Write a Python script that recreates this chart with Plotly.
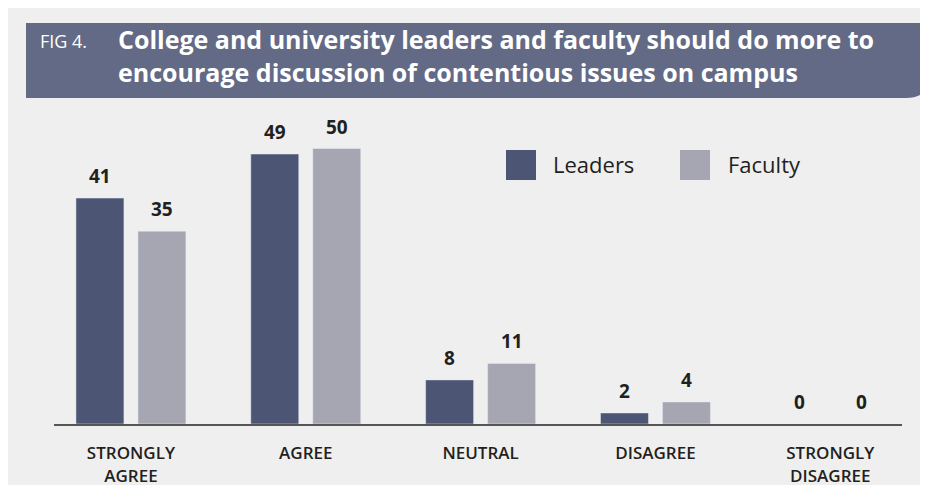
import plotly.graph_objects as go

categories = ["STRONGLY<br>AGREE", "AGREE", "NEUTRAL", "DISAGREE", "STRONGLY<br>DISAGREE"]
leaders = [41, 49, 8, 2, 0]
faculty = [35, 50, 11, 4, 0]

LEADERS_COLOR = "#4c5573"
FACULTY_COLOR = "#a6a6b2"
HEADER_COLOR = "#636a86"
PANEL = "#efefef"
TEXT = "#231f20"

# the page puts the figure 8px in from the top-left corner
W, H = 920, 477
L, R, T, B = 46, 26, 122, 61
PW, PH = W - L - R, H - T - B
OFF = 8


def fx(px):
    # page x -> paper
    return (px - OFF - L) / PW


def fy(py):
    # page y -> paper
    return (H - B - (py - OFF)) / PH


fig = go.Figure()
fig.add_trace(go.Bar(x=categories, y=leaders, name="Leaders", marker_color=LEADERS_COLOR, hoverinfo="x+y"))
fig.add_trace(go.Bar(x=categories, y=faculty, name="Faculty", marker_color=FACULTY_COLOR, hoverinfo="x+y"))

annotations = []
for i, cat in enumerate(categories):
    for vals, shift in ((leaders, -31), (faculty, 31)):
        annotations.append(dict(
            x=cat, y=vals[i], xref="x", yref="y", text=str(vals[i]),
            showarrow=False, xshift=shift, yshift=22, yanchor="middle",
            font=dict(family="Open Sans", size=19, color=TEXT, weight="bold"),
        ))

# header texts
annotations += [
    dict(x=fx(38), y=fy(41), xref="paper", yref="paper", text="FIG 4.", showarrow=False,
         xanchor="left", yanchor="middle", font=dict(family="Open Sans", size=18, color="white")),
    dict(x=fx(116), y=fy(56), xref="paper", yref="paper",
         text="College and university leaders and faculty should do more to<br>"
              "encourage discussion of contentious issues on campus",
         showarrow=False, align="left", xanchor="left", yanchor="middle",
         font=dict(family="Open Sans", size=25, color="white", weight="bold")),
]

# legend drawn by hand so the swatches can be large squares
for name, tx in (("Leaders", 551), ("Faculty", 726)):
    annotations.append(dict(x=fx(tx), y=fy(164), xref="paper", yref="paper", text=name, showarrow=False,
                            xanchor="left", yanchor="middle",
                            font=dict(family="Open Sans", size=22, color=TEXT)))

shapes = []
# header bar with rounded bottom-right corner
x0, x1, y0, y1, r = 26, 930, 23, 98, 24
path = (f"M {fx(x0)} {fy(y0)} L {fx(x1)} {fy(y0)} L {fx(x1)} {fy(y1 - r)} "
        f"Q {fx(x1)} {fy(y1)} {fx(x1 - r)} {fy(y1)} L {fx(x0)} {fy(y1)} Z")
shapes.append(dict(type="path", xref="paper", yref="paper", path=path,
                   fillcolor=HEADER_COLOR, line_width=0, layer="below"))
for color, sx in ((LEADERS_COLOR, 506), (FACULTY_COLOR, 680)):
    shapes.append(dict(type="rect", xref="paper", yref="paper", x0=fx(sx), x1=fx(sx + 30),
                       y0=fy(180), y1=fy(150), fillcolor=color, line_width=0))

fig.update_layout(
    width=W, height=H,
    margin=dict(l=L, r=R, t=T, b=B, autoexpand=False),
    paper_bgcolor=PANEL, plot_bgcolor=PANEL,
    barmode="group", bargap=0.291, bargroupgap=0.226,
    showlegend=False,
    annotations=annotations, shapes=shapes,
    font=dict(family="Open Sans", color=TEXT),
)
fig.update_xaxes(
    range=[-0.44, 4.41], showline=True, linecolor="#555555", linewidth=2,
    ticks="", ticklabelstandoff=13, showgrid=False, zeroline=False, automargin=False,
    tickfont=dict(family="Open Sans", size=17, color=TEXT, weight=600),
)
fig.update_yaxes(range=[0, PH / 5.51], visible=False, showgrid=False, zeroline=False, automargin=False)

fig.write_html("out.html")
